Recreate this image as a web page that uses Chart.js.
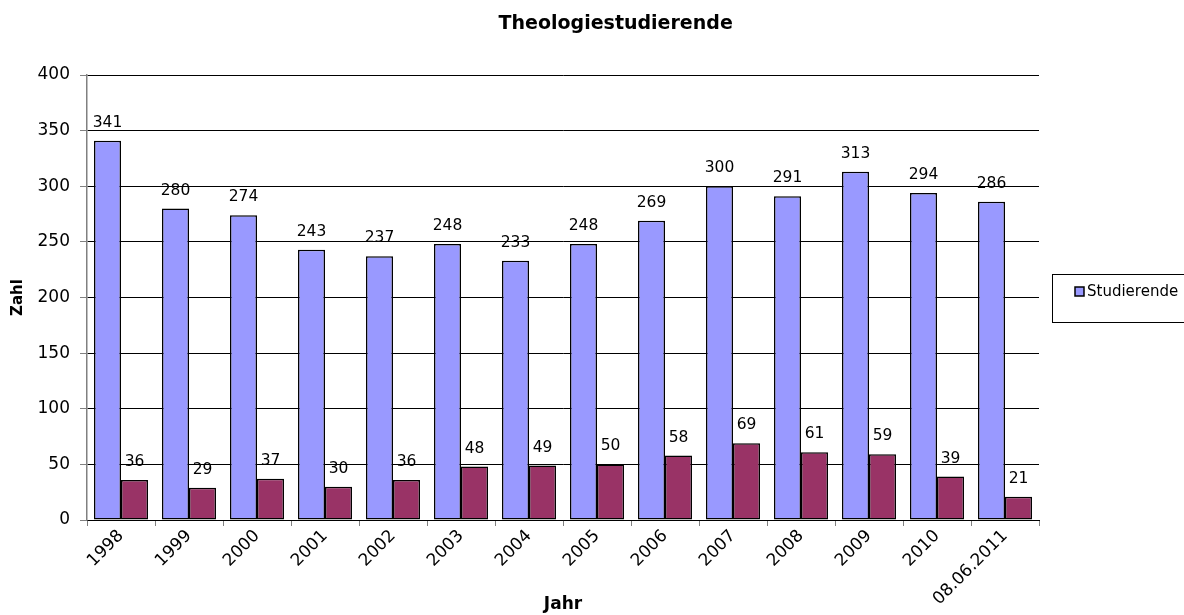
<!DOCTYPE html>
<html>
<head>
<meta charset="utf-8">
<title>Theologiestudierende</title>
<script src="https://cdn.jsdelivr.net/npm/chart.js@4.4.1/dist/chart.umd.min.js"></script>
<style>
  html, body { margin: 0; padding: 0; background: #fff; }
  #wrap { width: 1184px; height: 615px; position: relative; }
</style>
</head>
<body>
<div id="wrap"><canvas id="chart" width="1184" height="615"></canvas></div>
<script>
"use strict";

// values
var years = ["1998", "1999", "2000", "2001", "2002", "2003", "2004", "2005", "2006", "2007", "2008", "2009", "2010", "08.06.2011"];
var studierende = [341, 280, 274, 243, 237, 248, 233, 248, 269, 300, 291, 313, 294, 286];
var zweiteReihe = [36, 29, 37, 30, 36, 48, 49, 50, 58, 69, 61, 59, 39, 21];
var yTicks = [0, 50, 100, 150, 200, 250, 300, 350, 400];
var chartTitle = "Theologiestudierende";

var fontName = "'DejaVu Sans', sans-serif";

// number above every bar
var barLabels = {
    id: "barLabels",
    afterDatasetsDraw: function(chart) {
        var ctx = chart.ctx;
        ctx.save();
        ctx.font = "15.5px " + fontName;
        ctx.fillStyle = "#000";
        ctx.textAlign = "center";
        ctx.textBaseline = "middle";
        chart.data.datasets.forEach(function(ds, i) {
            var meta = chart.getDatasetMeta(i);
            meta.data.forEach(function(bar, j) {
                ctx.fillText(String(ds.data[j]), bar.x, bar.y - 18);
            });
        });
        ctx.restore();
    }
};

// title sits a bit right of the middle, like in the original
var titleText = {
    id: "titleText",
    afterDraw: function(chart) {
        var ctx = chart.ctx;
        ctx.save();
        ctx.font = "bold 19px " + fontName;
        ctx.fillStyle = "#000";
        ctx.textAlign = "center";
        ctx.textBaseline = "middle";
        ctx.fillText(chartTitle, chart.width * 0.52, 24);
        ctx.restore();
    }
};

// legend box on the right, only the first series is visible
var boxLegend = {
    id: "boxLegend",
    afterDraw: function(chart) {
        var ctx = chart.ctx;
        var x = chart.chartArea.right + 13;
        var y = 274;
        ctx.save();
        ctx.strokeStyle = "#000";
        ctx.lineWidth = 1;
        ctx.strokeRect(x + 0.5, y + 0.5, 200, 48);
        var ds = chart.data.datasets[0];
        ctx.fillStyle = ds.backgroundColor;
        ctx.fillRect(x + 23, y + 13, 9, 9);
        ctx.strokeStyle = "#000";
        ctx.lineWidth = 1.5;
        ctx.strokeRect(x + 23, y + 13, 9, 9);
        ctx.fillStyle = "#000";
        ctx.font = "15px " + fontName;
        ctx.textAlign = "left";
        ctx.textBaseline = "middle";
        ctx.fillText(ds.label, x + 35, y + 18);
        ctx.restore();
    }
};

var ctx = document.getElementById("chart").getContext("2d");
var chart = new Chart(ctx, {
    type: "bar",
    data: {
        labels: years,
        datasets: [{
            label: "Studierende",
            data: studierende,
            backgroundColor: "#9999FF",
            borderColor: "#000",
            borderWidth: 1.5,
            borderSkipped: false
        }, {
            label: "",
            data: zweiteReihe,
            backgroundColor: "#993366",
            borderColor: "#000",
            borderWidth: 1.5,
            borderSkipped: false
        }]
    },
    options: {
        responsive: false,
        animation: false,
        layout: { padding: { left: 0, right: 145, top: 75, bottom: 0 } },
        datasets: {
            bar: { barPercentage: 1.0, categoryPercentage: 0.794 }
        },
        plugins: {
            legend: { display: false },
            tooltip: { enabled: false },
            title: { display: false }
        },
        scales: {
            x: {
                offset: true,
                grid: {
                    offset: true,
                    drawOnChartArea: false,
                    drawTicks: true,
                    tickLength: 6,
                    color: "#808080"
                },
                border: { display: true, color: "#000", width: 1 },
                ticks: {
                    minRotation: 45,
                    maxRotation: 45,
                    autoSkip: false,
                    color: "#000",
                    padding: 0,
                    font: { family: fontName, size: 17 }
                },
                title: {
                    display: true,
                    text: "Jahr",
                    color: "#000",
                    font: { family: fontName, size: 17, weight: "bold" },
                    padding: { top: 0, bottom: 0 }
                },
                afterFit: function(scale) { scale.height = 95; }
            },
            y: {
                min: 0,
                max: 400,
                afterBuildTicks: function(scale) {
                    scale.ticks = yTicks.map(function(v) { return { value: v }; });
                },
                grid: {
                    color: "#000",
                    lineWidth: 1,
                    drawTicks: true,
                    tickLength: 7,
                    tickColor: "#808080"
                },
                border: { display: true, color: "#808080", width: 1.5 },
                ticks: {
                    color: "#000",
                    padding: 10,
                    font: { family: fontName, size: 17 }
                },
                title: {
                    display: true,
                    text: "Zahl",
                    color: "#000",
                    font: { family: fontName, size: 15, weight: "bold" },
                    padding: { top: 9, bottom: 0 }
                },
                afterFit: function(scale) { scale.width = 87; }
            }
        }
    },
    plugins: [barLabels, titleText, boxLegend]
});
</script>
</body>
</html>
